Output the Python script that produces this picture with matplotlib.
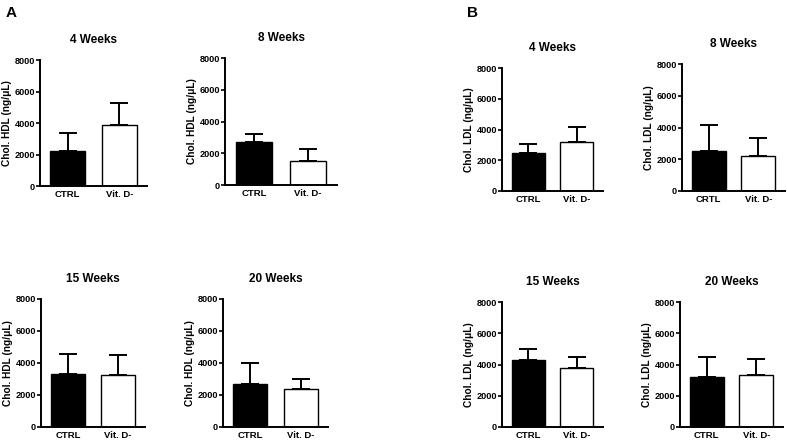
import matplotlib
matplotlib.use("Agg")
import matplotlib.pyplot as plt

plt.rcParams['font.family'] = ['Liberation Sans', 'DejaVu Sans']
plt.rcParams['font.weight'] = 'bold'

groups = ["CTRL", "Vit. D-"]
groups_b8 = ["CRTL", "Vit. D-"]
titles = ["4 Weeks", "8 Weeks", "15 Weeks", "20 Weeks"]

hdl_mean = [[2230, 3900], [2720, 1490], [3300, 3240], [2700, 2380]]
hdl_err = [[1140, 1370], [520, 790], [1250, 1290], [1310, 610]]
ldl_mean = [[2470, 3160], [2550, 2220], [4290, 3790], [3190, 3340]]
ldl_err = [[580, 1010], [1630, 1120], [690, 720], [1320, 1020]]

yticks = [0, 2000, 4000, 6000, 8000]

W, H = 787, 442
fig = plt.figure(figsize=(W / 100, H / 100), dpi=100)

# axes boxes in pixel coords: (x_left, y_top, x_right, y_bottom)
boxes = {
    ("A", 0): (40, 60, 147, 186),
    ("A", 1): (225, 58, 337, 185),
    ("A", 2): (41, 299, 145, 427),
    ("A", 3): (223, 299, 328, 427),
    ("B", 0): (502, 68, 603, 191),
    ("B", 1): (682, 64, 785, 191),
    ("B", 2): (502, 302, 603, 427),
    ("B", 3): (680, 302, 783, 427),
}


def draw(ax, means, errs, title, ylabel, labels):
    x = [0, 1]
    ax.bar(x, means, width=0.68, color=["black", "white"], edgecolor="black",
           linewidth=1.0, zorder=2)
    ax.errorbar(x, means, yerr=[[0, 0], errs], fmt="none", ecolor="black",
                elinewidth=1.4, capsize=6.5, capthick=1.4, zorder=1)
    ax.set_xlim(-0.54, 1.54)
    ax.set_ylim(0, 8000)
    ax.set_yticks(yticks)
    ax.set_yticklabels([str(v) for v in yticks], fontsize=6.6, fontweight="bold")
    ax.set_xticks(x)
    ax.set_xticklabels(labels, fontsize=6.8, fontweight="bold")
    ax.tick_params(axis="x", length=0, pad=3)
    ax.tick_params(axis="y", length=3, width=1.2, pad=0.5)
    for s in ["top", "right"]:
        ax.spines[s].set_visible(False)
    for s in ["left", "bottom"]:
        ax.spines[s].set_linewidth(1.4)
    ax.set_title(title, fontsize=8.5, fontweight="bold", pad=12)
    ax.set_ylabel(ylabel, fontsize=7.3, fontweight="bold", labelpad=2)


for (panel, i), (xl, yt, xr, yb) in boxes.items():
    ax = fig.add_axes([xl / W, 1 - yb / H, (xr - xl) / W, (yb - yt) / H])
    if panel == "A":
        draw(ax, hdl_mean[i], hdl_err[i], titles[i], "Chol. HDL (ng/\u03bcL)", groups)
    else:
        labs = groups_b8 if i == 1 else groups
        draw(ax, ldl_mean[i], ldl_err[i], titles[i], "Chol. LDL (ng/\u03bcL)", labs)

fig.text(6 / W, 1 - 17 / H, "A", fontsize=11, fontweight="bold")
fig.text(467 / W, 1 - 17 / H, "B", fontsize=11, fontweight="bold")

fig.savefig("out.png", dpi=100)
